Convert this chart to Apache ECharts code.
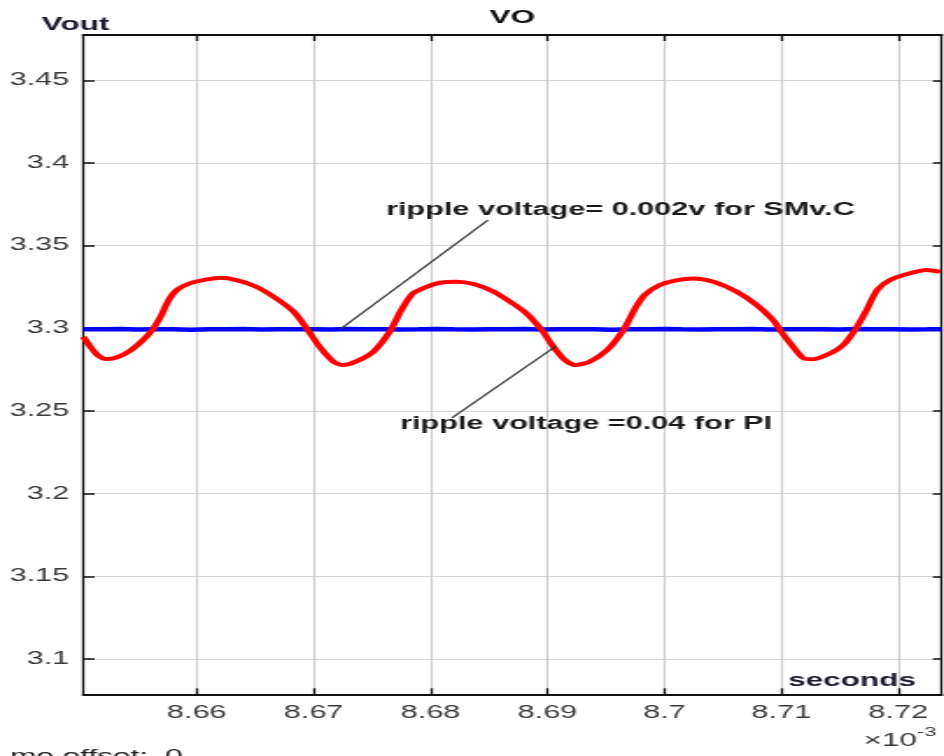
<!DOCTYPE html>
<html><head><meta charset="utf-8">
<script src="https://cdn.jsdelivr.net/npm/echarts@6/dist/echarts.min.js"></script>
<style>
html,body{margin:0;padding:0;background:#fff;overflow:hidden}
#wrap{width:944px;height:756px;overflow:hidden;position:relative;background:#fff}
#main{width:539px;height:756px;transform:scaleX(1.751391);transform-origin:0 0}
</style></head>
<body><div id="wrap"><div id="main"></div></div>
<script>
// ---- data (time in units of 1e-3 s, voltage in V) ----
const xTicks = [8.66, 8.67, 8.68, 8.69, 8.70, 8.71, 8.72];
const yTicks = [3.10, 3.15, 3.20, 3.25, 3.30, 3.35, 3.40, 3.45];

const piTime = [8.6503, 8.6509, 8.6515, 8.6523, 8.6532, 8.6543, 8.6554, 8.6562, 8.6569, 8.6576,
  8.6583, 8.6594, 8.6609, 8.6620, 8.6634, 8.6651, 8.6668, 8.6683, 8.6695, 8.6705,
  8.6717, 8.6725, 8.6737, 8.6751, 8.6765, 8.6775, 8.6785, 8.6797, 8.6808, 8.6822,
  8.6837, 8.6854, 8.6868, 8.6882, 8.6895, 8.6905, 8.6915, 8.6924, 8.6936, 8.6951,
  8.6965, 8.6975, 8.6983, 8.6996, 8.7011, 8.7025, 8.7042, 8.7062, 8.7079, 8.7093,
  8.7100, 8.7110, 8.7119, 8.7127, 8.7142, 8.7153, 8.7163, 8.7173, 8.7182, 8.7193,
  8.7210, 8.7224, 8.7236];
const piVolt = [3.2949, 3.2889, 3.2839, 3.2814, 3.2825, 3.2865, 3.2929, 3.2990, 3.3070, 3.3171,
  3.3232, 3.3272, 3.3296, 3.3306, 3.3292, 3.3252, 3.3181, 3.3100, 3.2990, 3.2889,
  3.2798, 3.2778, 3.2802, 3.2858, 3.2979, 3.3111, 3.3212, 3.3252, 3.3276, 3.3282,
  3.3268, 3.3221, 3.3161, 3.3091, 3.2990, 3.2889, 3.2808, 3.2778, 3.2798, 3.2869,
  3.2990, 3.3121, 3.3201, 3.3262, 3.3292, 3.3302, 3.3282, 3.3221, 3.3141, 3.3050,
  3.2979, 3.2889, 3.2819, 3.2813, 3.2849, 3.2899, 3.2990, 3.3111, 3.3232, 3.3292,
  3.3333, 3.3353, 3.3342];

const smcTime = [8.6503, 8.6520, 8.6535, 8.6550, 8.6565, 8.6580, 8.6595, 8.6610, 8.6625, 8.6640,
  8.6655, 8.6670, 8.6685, 8.6700, 8.6715, 8.6730, 8.6745, 8.6760, 8.6775, 8.6790,
  8.6805, 8.6820, 8.6835, 8.6850, 8.6865, 8.6880, 8.6895, 8.6910, 8.6925, 8.6940,
  8.6955, 8.6970, 8.6985, 8.7000, 8.7015, 8.7030, 8.7045, 8.7060, 8.7075, 8.7090,
  8.7105, 8.7120, 8.7135, 8.7150, 8.7165, 8.7180, 8.7195, 8.7210, 8.7225, 8.7237];
const smcVolt = [3.2995, 3.2994, 3.2996, 3.2993, 3.2995, 3.2994, 3.2992, 3.2995, 3.2994, 3.2996,
  3.2993, 3.2995, 3.2994, 3.2995, 3.2993, 3.2996, 3.2994, 3.2995, 3.2993, 3.2994,
  3.2996, 3.2994, 3.2993, 3.2995, 3.2994, 3.2996, 3.2993, 3.2995, 3.2994, 3.2995,
  3.2992, 3.2995, 3.2994, 3.2996, 3.2994, 3.2993, 3.2995, 3.2994, 3.2996, 3.2993,
  3.2995, 3.2994, 3.2995, 3.2993, 3.2996, 3.2994, 3.2995, 3.2993, 3.2994, 3.2995];

// annotation pointer lines (data coordinates)
const noteSmcLine = [[8.67226, 3.2994], [8.68491, 3.3655]];
const notePiLine = [[8.68183, 3.2458], [8.69073, 3.2893]];

const titleText = 'VO';
const yName = 'Vout';
const xName = 'seconds';
const noteSmc = 'ripple voltage= 0.002v for SMv.C';
const notePi = 'ripple voltage =0.04 for PI';

const X_MIN = 8.6503, X_MAX = 8.72371, Y_MIN = 3.0787, Y_MAX = 3.4774;

// ---- chart ----
const FONT = "'Liberation Sans', Arial, Helvetica, sans-serif";
const zip = (a, b) => a.map((v, i) => [v, b[i]]);
const fmt = v => String(+(+v).toFixed(2));

const axisLineStyle = w => ({ show: true, onZero: false, lineStyle: { color: '#111', width: w } });

const chart = echarts.init(document.getElementById('main'), null, { renderer: 'canvas' });
const txt = (text, x, y, size, weight, align, color) => ({
  type: 'text', x: x, y: y, silent: true, z: 100,
  style: { text: text, fontSize: size, fontWeight: weight, fontFamily: FONT, fill: color,
    align: align, verticalAlign: 'middle', textAlign: align, textVerticalAlign: 'middle' }
});

chart.setOption({
  animation: false,
  backgroundColor: '#fff',
  grid: { left: 47.56, right: 1.4, top: 35, bottom: 61.7, containLabel: false, outerBoundsMode: 'none' },
  xAxis: [
    { type: 'value', position: 'bottom', min: X_MIN, max: X_MAX,
      axisLine: axisLineStyle(2),
      axisTick: { show: true, inside: true, length: 6, customValues: xTicks, lineStyle: { color: '#111', width: 1.3 } },
      axisLabel: { show: true, customValues: xTicks, margin: 10, fontSize: 17.5, color: '#3a3a3a', fontFamily: FONT, formatter: fmt },
      splitLine: { show: true, lineStyle: { color: '#cdcdcd', width: 1.2 } } },
    { type: 'value', position: 'top', min: X_MIN, max: X_MAX,
      axisLine: axisLineStyle(2),
      axisTick: { show: true, inside: true, length: 6, customValues: xTicks, lineStyle: { color: '#111', width: 1.3 } },
      axisLabel: { show: false, customValues: xTicks },
      splitLine: { show: false } }
  ],
  yAxis: [
    { type: 'value', position: 'left', min: Y_MIN, max: Y_MAX,
      axisLine: axisLineStyle(1.3),
      axisTick: { show: true, inside: true, length: 6.5, customValues: yTicks, lineStyle: { color: '#111', width: 1.5 } },
      axisLabel: { show: true, customValues: yTicks, margin: 8, fontSize: 17.5, color: '#3a3a3a', fontFamily: FONT, formatter: fmt },
      splitLine: { show: true, lineStyle: { color: '#d6d6d6', width: 1.2 } } },
    { type: 'value', position: 'right', min: Y_MIN, max: Y_MAX,
      axisLine: axisLineStyle(1.3),
      axisTick: { show: true, inside: true, length: 5, customValues: yTicks, lineStyle: { color: '#111', width: 1.5 } },
      axisLabel: { show: false, customValues: yTicks },
      splitLine: { show: false } }
  ],
  series: [
    { type: 'line', name: 'SMC', data: zip(smcTime, smcVolt), symbol: 'none', silent: true, z: 3,
      lineStyle: { color: '#0000ff', width: 4.5 } },
    { type: 'line', name: 'PI', data: zip(piTime, piVolt), symbol: 'none', smooth: 0.25, silent: true, z: 4,
      lineStyle: { color: '#ff0000', width: 4 } },
    { type: 'line', name: 'noteSMC', data: noteSmcLine, symbol: 'none', silent: true, z: 5,
      lineStyle: { color: '#333', width: 1.2 } },
    { type: 'line', name: 'notePI', data: notePiLine, symbol: 'none', silent: true, z: 5,
      lineStyle: { color: '#333', width: 1.2 } }
  ],
  graphic: [
    txt(titleText, 292.6, 17.7, 18, 'bold', 'center', '#111'),
    txt(yName, 23.8, 25.4, 18, 'bold', 'left', '#1c1c30'),
    txt(xName, 449.9, 681, 18, 'bold', 'left', '#1c1c30'),
    txt('\u00d710', 523.6, 741.5, 18, 'normal', 'right', '#3a3a3a'),
    txt('-3', 523.6, 733, 12.5, 'normal', 'left', '#3a3a3a'),
    txt('mo offset:', 5.7, 757, 18, 'normal', 'left', '#222'),
    txt('0', 94.2, 757, 18, 'normal', 'left', '#222'),
    txt(noteSmc, 220.4, 210, 17.5, 'bold', 'left', '#1a1a1a'),
    txt(notePi, 228.4, 424, 17.5, 'bold', 'left', '#1a1a1a')
  ]
});
</script>
</body></html>
